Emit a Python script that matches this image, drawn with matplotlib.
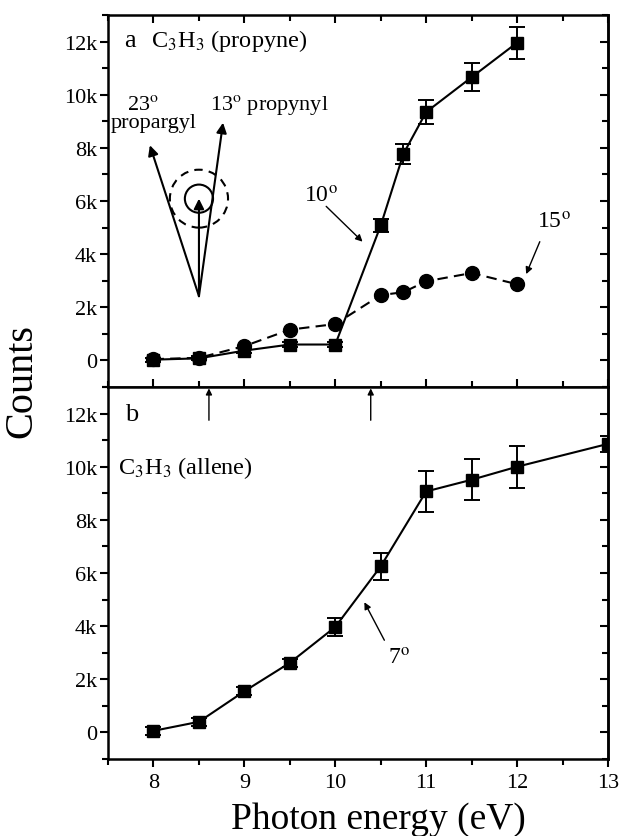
import numpy as np
import matplotlib
matplotlib.use('Agg')
from matplotlib import pyplot as plt
from matplotlib.patches import Ellipse
from matplotlib.ticker import MultipleLocator, FuncFormatter

plt.rcParams['font.family'] = ['Liberation Serif', 'DejaVu Serif']
plt.rcParams['mathtext.fontset'] = 'stix'

# panel a: C3H3 from propyne
ea = [8, 8.5, 9, 9.5, 10, 10.5, 10.75, 11, 11.5, 12]
sq_a = [30, 80, 370, 600, 600, 5080, 7780, 9350, 10660, 11960]
sq_a_err = [80, 80, 100, 100, 100, 250, 380, 460, 530, 600]
ci_a = [50, 100, 540, 1160, 1370, 2460, 2570, 2980, 3290, 2870]

# panel b: C3H3 from allene
eb = [8, 8.5, 9, 9.5, 10, 10.5, 11, 11.5, 12, 13]
sq_b = [60, 400, 1550, 2620, 3970, 6250, 9070, 9510, 10000, 10860]
sq_b_err = [150, 150, 150, 150, 350, 500, 780, 780, 790, 300]

arrow_e = [8.61, 10.39]   # threshold arrows

fig = plt.figure(figsize=(6.21, 8.37), dpi=100)
axa = fig.add_axes([0.174, 0.5364, 0.805, 0.4444])
axb = fig.add_axes([0.174, 0.092, 0.805, 0.4444])

kk = FuncFormatter(lambda v, p: '0' if v == 0 else '%dk' % round(v / 1000))

for ax in (axa, axb):
    ax.set_xlim(7.5, 13)
    ax.set_ylim(-1000, 13000)
    ax.xaxis.set_major_locator(MultipleLocator(1))
    ax.xaxis.set_minor_locator(MultipleLocator(0.5))
    ax.yaxis.set_major_locator(MultipleLocator(2000))
    ax.yaxis.set_minor_locator(MultipleLocator(1000))
    ax.yaxis.set_major_formatter(kk)
    for s in ax.spines.values():
        s.set_linewidth(1.8)
    ax.tick_params(axis='y', which='both', left=True, right=False,
                   direction='out', labelsize=16, width=1.5, pad=2)
    ax.tick_params(axis='y', which='major', length=6)
    ax.tick_params(axis='y', which='minor', length=4)
    # inward ticks on the right side
    sec = ax.secondary_yaxis('right')
    sec.yaxis.set_major_locator(MultipleLocator(2000))
    sec.yaxis.set_minor_locator(MultipleLocator(1000))
    sec.tick_params(which='both', direction='in', labelright=False, width=1.5)
    sec.tick_params(which='major', length=6)
    sec.tick_params(which='minor', length=4)
    sec.spines['right'].set_linewidth(1.8)

axa.tick_params(axis='x', which='both', direction='in', top=True, bottom=True,
                labelbottom=False, width=1.5)
axa.tick_params(axis='x', which='major', length=6)
axa.tick_params(axis='x', which='minor', length=4)
axb.tick_params(axis='x', which='both', direction='out', top=False,
                labelsize=16, width=1.5, pad=4)
axb.tick_params(axis='x', which='major', length=6)
axb.tick_params(axis='x', which='minor', length=4)

# data, panel a
axa.plot(ea, ci_a, 'k--', lw=1.5, marker='o', ms=10, dashes=(5, 3), zorder=3)
axa.errorbar(ea, sq_a, yerr=sq_a_err, fmt='ks-', lw=1.5, ms=9, capsize=6,
             elinewidth=1.4, capthick=1.4, zorder=4)

# data, panel b
axb.errorbar(eb, sq_b, yerr=sq_b_err, fmt='ks-', lw=1.5, ms=9, capsize=6,
             elinewidth=1.4, capthick=1.4, zorder=4, clip_on=True)

# labels in panel a
axa.text(7.74, 12050, 'a', fontsize=19, ha='center', va='center')
axa.text(7.97, 12050, r'C$_3$H$_3$ (propyne)', fontsize=17.5, ha='left', va='center')
axa.text(7.88, 9650, '23$^{\\rm o}$', fontsize=16, ha='center', va='center')
axa.text(8.0, 8950, 'propargyl', fontsize=16, ha='center', va='center')
axa.text(8.62, 9650, '13$^{\\rm o}$ propynyl', fontsize=16, ha='left', va='center')

# recoil diagram
origin = (8.5, 2420)
for tip in [(7.96, 8100), (8.765, 8950), (8.5, 6090)]:
    axa.annotate('', xy=tip, xytext=origin,
                 arrowprops=dict(arrowstyle='-|>', color='k', lw=1.5,
                                 mutation_scale=15, shrinkA=0, shrinkB=0))
axa.add_patch(Ellipse((8.5, 6090), 0.31, 1060, fill=False, lw=1.5, color='k'))
axa.add_patch(Ellipse((8.5, 6090), 0.64, 2180, fill=False, lw=1.5, color='k',
                      linestyle=(0, (4, 3))))

axa.text(9.84, 6200, '10$^{\\rm o}$', fontsize=17, ha='center', va='center')
axa.annotate('', xy=(10.3, 4470), xytext=(9.9, 5800),
             arrowprops=dict(arrowstyle='-|>', color='k', lw=1.0,
                             mutation_scale=10, shrinkA=0, shrinkB=0))
axa.text(12.41, 5200, '15$^{\\rm o}$', fontsize=17, ha='center', va='center')
axa.annotate('', xy=(12.1, 3250), xytext=(12.25, 4470),
             arrowprops=dict(arrowstyle='-|>', color='k', lw=1.0,
                             mutation_scale=10, shrinkA=0, shrinkB=0))

# labels in panel b
axb.text(7.76, 12000, 'b', fontsize=19, ha='center', va='center')
axb.text(7.61, 10000, r'C$_3$H$_3$ (allene)', fontsize=17.5, ha='left', va='center')
axb.text(10.7, 2800, '7$^{\\rm o}$', fontsize=17, ha='center', va='center')
axb.annotate('', xy=(10.32, 4900), xytext=(10.54, 3470),
             arrowprops=dict(arrowstyle='-|>', color='k', lw=1.0,
                             mutation_scale=10, shrinkA=0, shrinkB=0))
for e in arrow_e:
    axb.annotate('', xy=(e, 12950), xytext=(e, 11750),
                 arrowprops=dict(arrowstyle='-|>', color='k', lw=1.0,
                                 mutation_scale=9, shrinkA=0, shrinkB=0))

fig.text(0.035, 0.545, 'Counts', rotation=90, fontsize=29, ha='center', va='center')
fig.text(0.61, 0.021, 'Photon energy (eV)', fontsize=27, ha='center', va='center')

fig.savefig('out.png', dpi=100)
